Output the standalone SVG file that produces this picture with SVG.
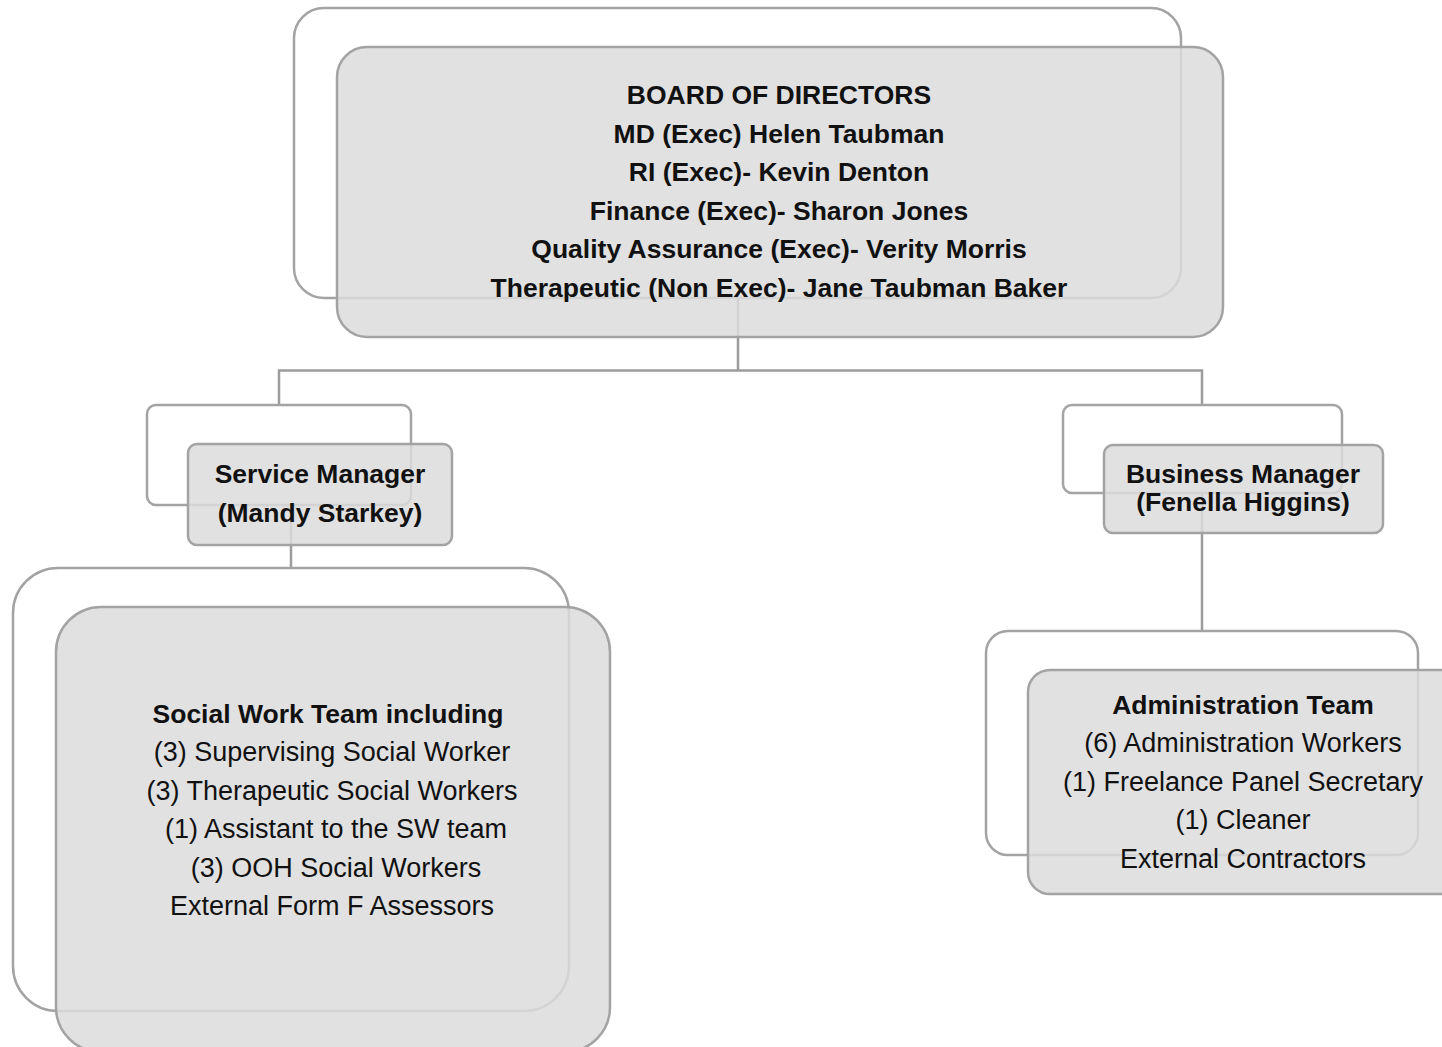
<svg xmlns="http://www.w3.org/2000/svg" width="1442" height="1047" viewBox="0 0 1442 1047">
<style>
.back{fill:none;stroke:#a3a3a3;stroke-width:2.5}
.front{fill:#dcdcdc;fill-opacity:0.85;stroke:#a3a3a3;stroke-width:2.5}
.conn{fill:none;stroke:#9c9c9c;stroke-width:2.5}
text{font-family:"Liberation Sans",Arial,sans-serif;font-size:27px;fill:#111;text-anchor:middle}
.b{font-weight:bold;font-size:26.5px}
</style>
<rect width="1442" height="1047" fill="#ffffff"/>
<g id="connectors">
<path class="conn" d="M738 298 V370.5 M279 405 V370.5 H1202 V405"/>
<path class="conn" d="M291 505 V568"/>
<path class="conn" d="M1202 493 V631"/>
</g>
<g id="board">
<rect class="back" x="294" y="8" width="887" height="290" rx="30"/>
<rect class="front" x="337" y="47" width="886" height="290" rx="30"/>
<text class="b" x="779" y="104">BOARD OF DIRECTORS</text>
<text class="b" x="779" y="142.5">MD (Exec) Helen Taubman</text>
<text class="b" x="779" y="181">RI (Exec)- Kevin Denton</text>
<text class="b" x="779" y="219.5">Finance (Exec)- Sharon Jones</text>
<text class="b" x="779" y="258">Quality Assurance (Exec)- Verity Morris</text>
<text class="b" x="779" y="296.5">Therapeutic (Non Exec)- Jane Taubman Baker</text>
</g>
<g id="service-manager">
<rect class="back" x="147" y="405" width="264" height="100" rx="9"/>
<rect class="front" x="188" y="444" width="264" height="101" rx="9"/>
<text class="b" x="320" y="483">Service Manager</text>
<text class="b" x="320" y="522">(Mandy Starkey)</text>
</g>
<g id="business-manager">
<rect class="back" x="1063" y="405" width="279" height="88" rx="9"/>
<rect class="front" x="1104" y="445" width="279" height="88" rx="9"/>
<text class="b" x="1243" y="483">Business Manager</text>
<text class="b" x="1243" y="511">(Fenella Higgins)</text>
</g>
<g id="social-work-team">
<rect class="back" x="13" y="568" width="556" height="443" rx="45"/>
<rect class="front" x="56" y="607" width="554" height="445" rx="45"/>
<text class="b" x="328" y="723">Social Work Team including</text>
<text x="332" y="761">(3) Supervising Social Worker</text>
<text x="332" y="800">(3) Therapeutic Social Workers</text>
<text x="336" y="838">(1) Assistant to the SW team</text>
<text x="336" y="877">(3) OOH Social Workers</text>
<text x="332" y="915">External Form F Assessors</text>
</g>
<g id="administration-team">
<rect class="back" x="986" y="631" width="432" height="224" rx="22"/>
<rect class="front" x="1028" y="670" width="440" height="224" rx="22"/>
<text class="b" x="1243" y="714">Administration Team</text>
<text x="1243" y="752">(6) Administration Workers</text>
<text x="1243" y="791">(1) Freelance Panel Secretary</text>
<text x="1243" y="829">(1) Cleaner</text>
<text x="1243" y="868">External Contractors</text>
</g>
</svg>
